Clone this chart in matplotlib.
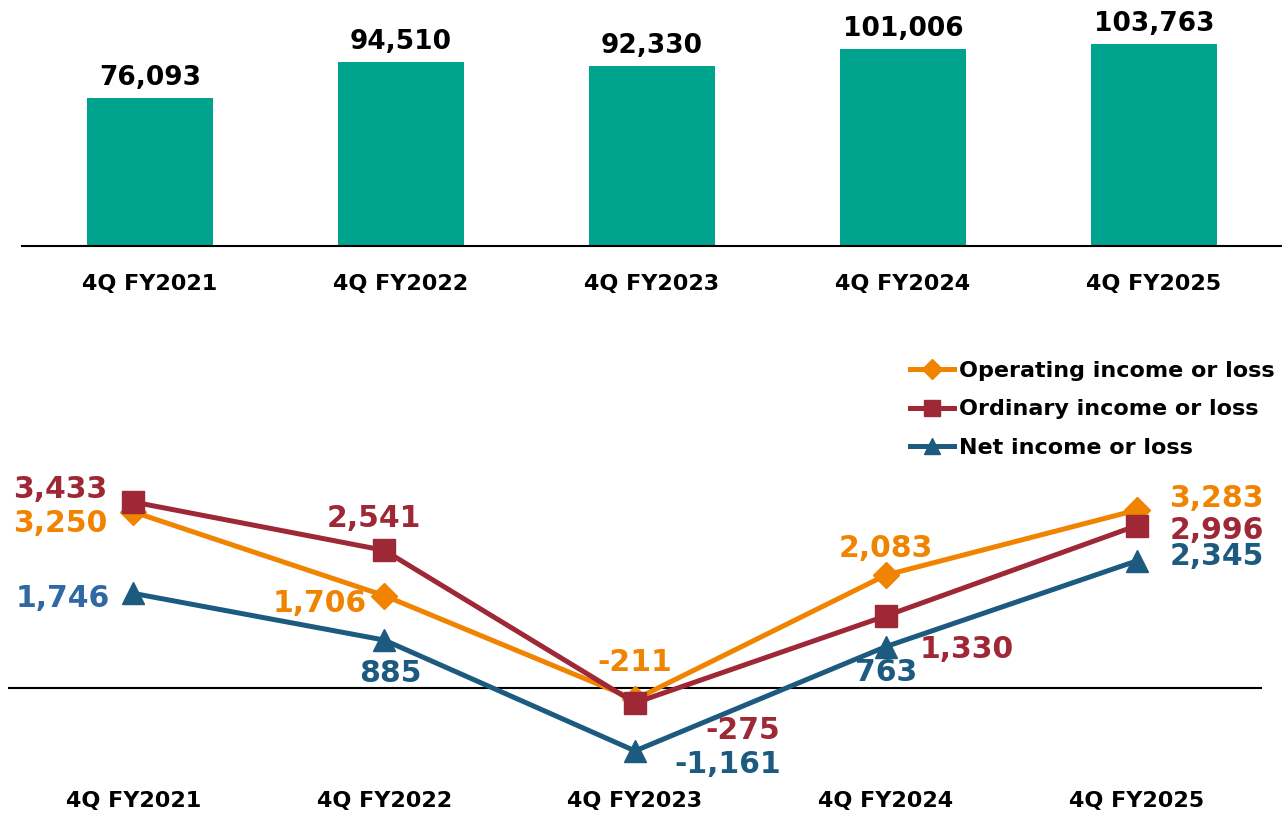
import numpy as np
import matplotlib.pyplot as plt

plt.rcParams['font.family'] = ['DejaVu Sans']
plt.rcParams['font.weight'] = 'bold'

# data
periods = ['4Q FY2021', '4Q FY2022', '4Q FY2023', '4Q FY2024', '4Q FY2025']
net_sales = [76093, 94510, 92330, 101006, 103763]
operating = [3250, 1706, -211, 2083, 3283]
ordinary = [3433, 2541, -275, 1330, 2996]
net_income = [1746, 885, -1161, 763, 2345]

green = '#00A48E'
orange = '#F08300'
red = '#9E2836'
blue = '#1C5A80'
blue_lbl = '#2F68A2'

W, H = 1282, 816
fig = plt.figure(figsize=(W / 100, H / 100), dpi=100)

# top: net sales bars
ax1 = fig.add_axes([22 / W, 1 - 246 / H, (1282 - 22) / W, 246 / H])
x = np.arange(len(periods))
ax1.bar(x, net_sales, width=0.5, color=green)
ax1.set_xlim(-0.51, 4.51)
ax1.set_ylim(0, 126400)
for xi, v in zip(x, net_sales):
    ax1.annotate(f'{v:,}', (xi, v), xytext=(0, 7), textcoords='offset pixels',
                 ha='center', va='bottom', fontsize=19, fontweight='bold')
ax1.set_xticks(x)
ax1.set_xticklabels(periods, fontsize=16, fontweight='bold')
ax1.tick_params(axis='x', length=0, pad=20)
ax1.set_yticks([])
for s in ['top', 'left', 'right']:
    ax1.spines[s].set_visible(False)
ax1.spines['bottom'].set_linewidth(1.5)

# bottom: income lines
bot = 780
top = 340
ax2 = fig.add_axes([8 / W, 1 - bot / H, (1262 - 8) / W, (bot - top) / H])
ax2.set_xlim(-0.5, 4.5)
scale = 186 / 3433
ax2.set_ylim(-(bot - 688) / scale, (688 - top) / scale)
ax2.axhline(0, color='black', lw=1.5, zorder=1)

ax2.plot(x, operating, color=orange, lw=3.6, marker='D', ms=13, label='Operating income or loss', zorder=3)
ax2.plot(x, ordinary, color=red, lw=3.6, marker='s', ms=16, label='Ordinary income or loss', zorder=4)
ax2.plot(x, net_income, color=blue, lw=3.6, marker='^', ms=16, label='Net income or loss', zorder=3)

op_off = [(-73, -12), (-65, -8), (0, 37), (0, 27), (80, 12)]
ord_off = [(-73, 12), (-10, 32), (108, -28), (81, -34), (80, -5)]
net_off = [(-71, -5), (6, -33), (93, -14), (0, -26), (80, 4)]

def label_series(vals, offs, cols):
    for xi, v, (dx, dy), c in zip(x, vals, offs, cols):
        ax2.annotate(f'{v:,}', (xi, v), xytext=(dx, dy), textcoords='offset pixels',
                     ha='center', va='center', fontsize=21.5, fontweight='bold', color=c)

label_series(operating, op_off, [orange] * 5)
label_series(ordinary, ord_off, [red] * 5)
label_series(net_income, net_off, [blue_lbl] + [blue] * 4)

ax2.set_xticks(x)
ax2.set_xticklabels(periods, fontsize=16, fontweight='bold')
ax2.tick_params(axis='x', length=0, pad=8)
ax2.set_yticks([])
for s in ax2.spines.values():
    s.set_visible(False)

leg = ax2.legend(loc='upper left', bbox_to_anchor=(910 / W, 1 - 361 / H), bbox_transform=fig.transFigure,
                 frameon=False, fontsize=16, handlelength=2.0, handletextpad=0.2,
                 labelspacing=0.83, markerscale=0.75, borderpad=0, borderaxespad=0)
for t in leg.get_texts():
    t.set_fontweight('bold')

fig.savefig('out.png', dpi=100)
